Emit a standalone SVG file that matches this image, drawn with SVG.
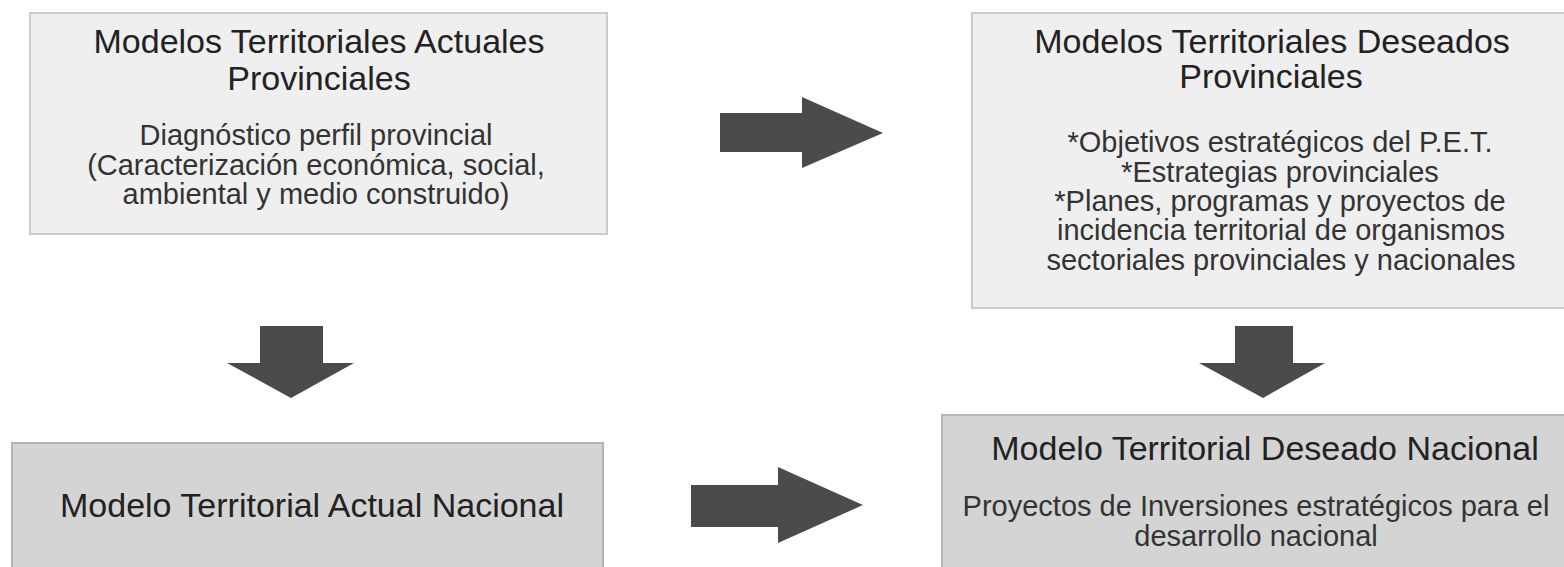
<svg xmlns="http://www.w3.org/2000/svg" width="1564" height="567" viewBox="0 0 1564 567">
  <style>
    .light { fill: #efefef; stroke: #cbcbcb; stroke-width: 2; }
    .dark { fill: #d4d4d4; stroke: #b4b4b4; stroke-width: 2; }
    .title { font-family: "Liberation Sans", Arial, sans-serif; font-size: 34px; fill: #222222; text-anchor: middle; }
    .body { font-family: "Liberation Sans", Arial, sans-serif; font-size: 29px; fill: #333333; text-anchor: middle; }
    .arrow { fill: #4b4b4b; stroke: none; }
  </style>
  <rect x="0" y="0" width="1564" height="567" fill="#ffffff"/>

  <g id="node-actuales-provinciales">
    <rect class="light" x="30" y="13" width="577" height="221"/>
    <text class="title" x="319" y="53">Modelos Territoriales Actuales</text>
    <text class="title" x="319" y="90">Provinciales</text>
    <text class="body" x="316" y="145">Diagnóstico perfil provincial</text>
    <text class="body" x="316" y="175">(Caracterización económica, social,</text>
    <text class="body" x="316" y="204">ambiental y medio construido)</text>
  </g>

  <g id="node-deseados-provinciales">
    <rect class="light" x="972" y="13" width="610" height="295"/>
    <text class="title" x="1272" y="53">Modelos Territoriales Deseados</text>
    <text class="title" x="1271" y="88">Provinciales</text>
    <text class="body" x="1280" y="152">*Objetivos estratégicos del P.E.T.</text>
    <text class="body" x="1280" y="182">*Estrategias provinciales</text>
    <text class="body" x="1280" y="211">*Planes, programas y proyectos de</text>
    <text class="body" x="1281" y="240">incidencia territorial de organismos</text>
    <text class="body" x="1281" y="270">sectoriales provinciales y nacionales</text>
  </g>

  <g id="node-actual-nacional">
    <rect class="dark" x="12" y="443" width="591" height="134"/>
    <text class="title" x="312" y="517">Modelo Territorial Actual Nacional</text>
  </g>

  <g id="node-deseado-nacional">
    <rect class="dark" x="942" y="415" width="640" height="162"/>
    <text class="title" x="1265" y="460">Modelo Territorial Deseado Nacional</text>
    <text class="body" x="1256" y="516">Proyectos de Inversiones estratégicos para el</text>
    <text class="body" x="1256" y="546">desarrollo nacional</text>
  </g>

  <g id="connectors">
    <path class="arrow" d="M720 113 H802 V97 L883 133 L802 168 V152 H720 Z"/>
    <path class="arrow" d="M691 485 H778 V467 L863 505 L778 543 V527 H691 Z"/>
    <path class="arrow" d="M260 326 H323 V363 H354 L291 398 L227 363 H260 Z"/>
    <path class="arrow" d="M1235 326 H1293 V363 H1325 L1263 398 L1199 363 H1235 Z"/>
  </g>
</svg>
